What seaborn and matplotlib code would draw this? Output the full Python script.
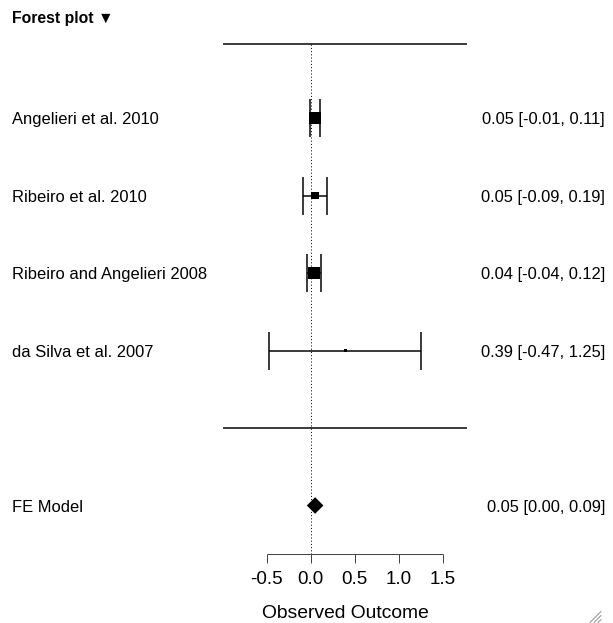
import numpy as np
import pandas as pd
from matplotlib import pyplot as plt
from matplotlib.lines import Line2D
import seaborn as sns

studies = ['Angelieri et al. 2010', 'Ribeiro et al. 2010',
           'Ribeiro and Angelieri 2008', 'da Silva et al. 2007']
estimate = [0.05, 0.05, 0.04, 0.39]
ci_lower = [-0.01, -0.09, -0.04, -0.47]
ci_upper = [0.11, 0.19, 0.12, 1.25]

fe_label = 'FE Model'
fe_estimate = 0.05
fe_lower = 0.00
fe_upper = 0.09

x_ticks = [-0.5, 0.0, 0.5, 1.0, 1.5]
x_label = 'Observed Outcome'
title = 'Forest plot \u25bc'

# square side (px) per study, as drawn in the picture
square_px = [12, 7.5, 11.5, 3]

sns.set_style('white')
plt.rcParams['font.family'] = ['Liberation Sans', 'DejaVu Sans']
plt.rcParams['text.color'] = 'black'

W, H, DPI = 613, 623, 100
px2pt = 72 / DPI

k = len(studies)
rows = np.arange(k + 1, 1, -1)      # 5, 4, 3, 2
fe_row = 0
row_px = 77.5                        # pixels per row
unit_px = 88.3                       # pixels per outcome unit
zero_px = 310.7

fig = plt.figure(figsize=(W / DPI, H / DPI), dpi=DPI)
ax = fig.add_axes([0, 0, 1, 1])
ax.set_xlim(-zero_px / unit_px, (W - zero_px) / unit_px)
ax.set_ylim(-(H - 505.5) / row_px, 505.5 / row_px)
ax.axis('off')

lw = 1.5 * px2pt
xl, xr = -0.993, 1.77
top_line = k + 1.96
axis_y = -48 / row_px

ax.hlines([1, top_line], xl, xr, color='black', lw=lw)
ax.vlines(0, axis_y, top_line, color='black', lw=1.0 * px2pt, linestyles=(0, (1, 2.2)))

# confidence intervals with end caps
cap = 19 / row_px
ax.hlines(rows, ci_lower, ci_upper, color='black', lw=lw)
ax.vlines(ci_lower, rows - cap, rows + cap, color='black', lw=lw)
ax.vlines(ci_upper, rows - cap, rows + cap, color='black', lw=lw)

df = pd.DataFrame({'study': studies, 'estimate': estimate, 'row': rows})
sizes = {s: (p * px2pt) ** 2 for s, p in zip(studies, square_px)}
sns.scatterplot(data=df, x='estimate', y='row', size='study', sizes=sizes,
                marker='s', color='black', edgecolor='none', legend=False, ax=ax)

fe_df = pd.DataFrame({'estimate': [fe_estimate], 'row': [fe_row]})
diamond_w = 16.6 * px2pt / np.sqrt(2)
sns.scatterplot(data=fe_df, x='estimate', y='row', marker='D', s=diamond_w ** 2,
                color='black', edgecolor='none', legend=False, ax=ax)

# labels
left_x = (12 - zero_px) / unit_px
right_x = (605 - zero_px) / unit_px
base_off = 6.2 / row_px
for lab, r, e, lo, hi in zip(studies, rows, estimate, ci_lower, ci_upper):
    ax.text(left_x, r - base_off, lab, fontsize=11.9, va='baseline', ha='left')
    ax.text(right_x, r - base_off, f'{e:.2f} [{lo:.2f}, {hi:.2f}]',
            fontsize=11.9, va='baseline', ha='right')
ax.text(left_x, fe_row - base_off, fe_label, fontsize=11.9, va='baseline', ha='left')
ax.text(right_x, fe_row - base_off, f'{fe_estimate:.2f} [{fe_lower:.2f}, {fe_upper:.2f}]',
        fontsize=11.9, va='baseline', ha='right')

# bottom axis
ax.hlines(axis_y, x_ticks[0], x_ticks[-1], color='#444444', lw=1.0 * px2pt)
ax.vlines(x_ticks, axis_y - 9 / row_px, axis_y, color='#444444', lw=1.0 * px2pt)
for t in x_ticks:
    ax.text(t, -78 / row_px, f'{t:.1f}', fontsize=13.5, ha='center', va='baseline')
ax.text(0.39, -113 / row_px, x_label, fontsize=13.9, ha='center', va='baseline')

fig.text(12 / W, 1 - 23.3 / H, title, fontsize=11.3, fontweight='bold',
         ha='left', va='baseline')

# resize grip in the corner
for d in (0, 4, 8):
    fig.add_artist(Line2D([(590 + d) / W, 601 / W], [1 - 622.5 / H, 1 - (611.5 + d) / H],
                          color='#999999', lw=0.8))

fig.savefig('out.png', dpi=DPI)
